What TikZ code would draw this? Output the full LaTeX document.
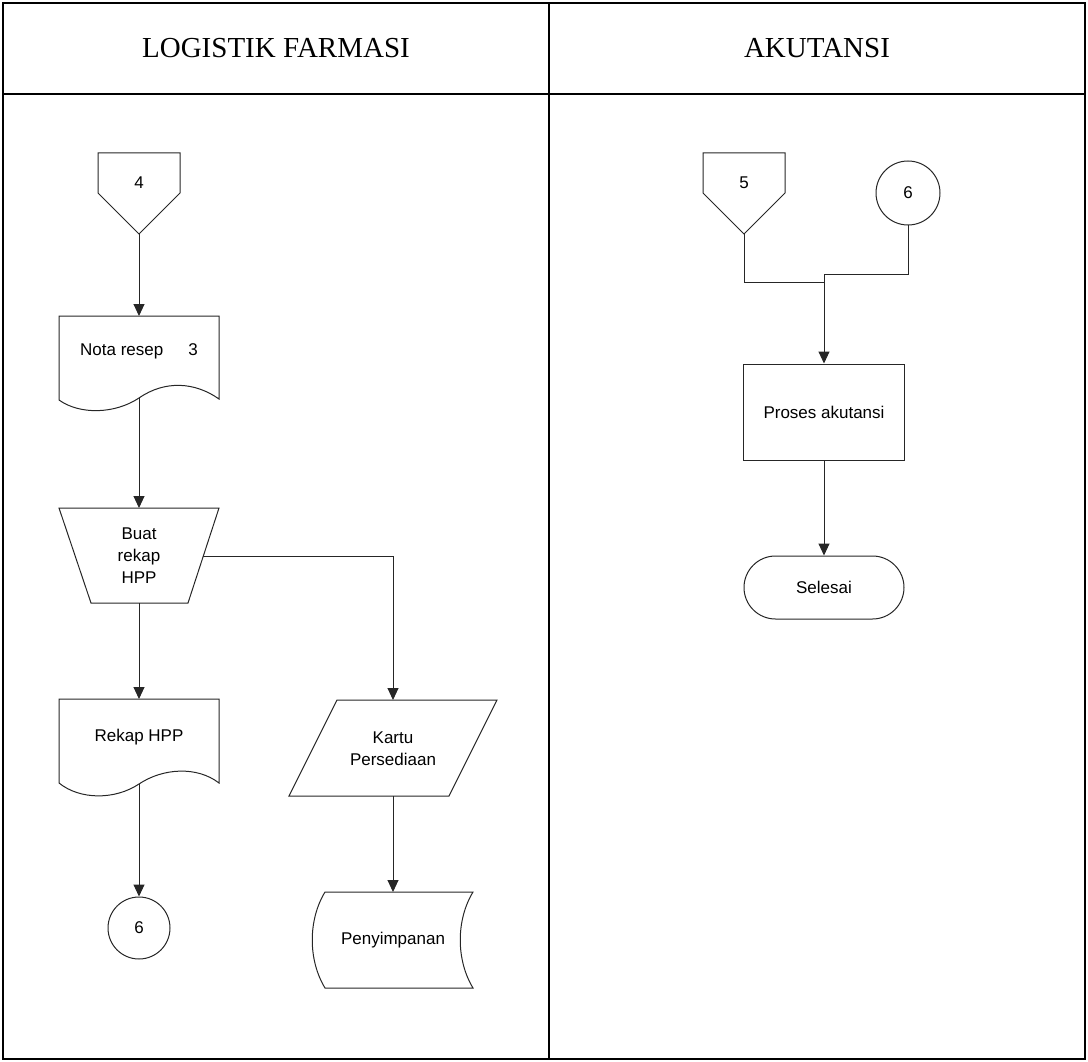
\documentclass[tikz,border=0pt]{standalone}
\usepackage{fontspec}
\setmainfont{Liberation Serif}
\setsansfont{Liberation Sans}
\usetikzlibrary{arrows.meta}

\begin{document}
\begin{tikzpicture}[x=1pt,y=-1pt,
  lanes/.style={line width=2.2pt, draw=black},
  head/.style={font=\rmfamily\fontsize{29}{32}\selectfont, inner sep=0},
  shp/.style={draw=black!85, line width=1pt},
  lbl/.style={font=\sffamily\fontsize{17}{22}\selectfont, align=center, inner sep=0},
  ln/.style={draw=black!85, line width=1pt},
  arr/.style={ln, -{Triangle[length=12pt,width=11pt]}}]

\useasboundingbox (0,0) rectangle (1088,1062);

% swimlane frame
\draw[lanes] (3,3) rectangle (1085,1059);
\draw[lanes] (3,94) -- (1085,94);
\draw[lanes] (549,3) -- (549,1059);
\node[head] (hlog) at (276,48) {LOGISTIK FARMASI};
\node[head] (hakt) at (817,48) {AKUTANSI};

% ---------- LOGISTIK FARMASI ----------
% off-page connector 4
\draw[shp] (98,153) -- (180,153) -- (180,193) -- (139,234) -- (98,193) -- cycle;
\node[lbl] (t4) at (139,183) {4};
\coordinate (o4) at (139,234);

% document: Nota resep
\draw[shp] (59,316) -- (219,316) -- (219,399)
  .. controls (195,382) and (165,380) .. (139,398)
  .. controls (115,414) and (80,415) .. (59,400) -- cycle;
\node[lbl] (nota) at (139,351) {Nota resep\hspace{25pt}3};
\coordinate (notaT) at (139,316);
\coordinate (notaB) at (139,398);

% manual operation: Buat rekap HPP
\draw[shp] (59,508) -- (219,508) -- (188,603) -- (91,603) -- cycle;
\node[lbl] (buat) at (139,556) {Buat\\rekap\\HPP};
\coordinate (buatT) at (139,508);
\coordinate (buatB) at (139,603);
\coordinate (buatR) at (203.3,556);

% document: Rekap HPP
\draw[shp] (59,699) -- (219,699) -- (219,783)
  .. controls (197,766) and (163,768) .. (139,784)
  .. controls (115,800) and (80,800) .. (59,783) -- cycle;
\node[lbl] (rekap) at (139,737) {Rekap HPP};
\coordinate (rekapT) at (139,699);
\coordinate (rekapB) at (139,784);

% on-page connector 6
\node[shp, circle, minimum size=62pt, inner sep=0, font=\sffamily\fontsize{17}{22}\selectfont] (c6l) at (139,928) {6};

% data: Kartu Persediaan
\draw[shp] (337,700) -- (497,700) -- (449,796) -- (289,796) -- cycle;
\node[lbl] (kartu) at (393,749) {Kartu\\Persediaan};
\coordinate (kartuT) at (393,700);
\coordinate (kartuB) at (393,796);

% stored data: Penyimpanan
\draw[shp] (325,892) -- (473,892)
  .. controls (456,920) and (456,960) .. (473,988)
  -- (325,988)
  .. controls (308,960) and (308,920) .. (325,892) -- cycle;
\node[lbl] (simpan) at (393,940) {Penyimpanan};
\coordinate (simpanT) at (393,892);

% flow, left lane
\draw[arr] (o4) -- (notaT);
\draw[arr] (notaB) -- (buatT);
\draw[arr] (buatB) -- (rekapT);
\draw[arr] (buatR) -| (kartuT);
\draw[arr] (rekapB) -- (c6l.north);
\draw[arr] (kartuB) -- (simpanT);

% ---------- AKUTANSI ----------
% off-page connector 5
\draw[shp] (703,153) -- (785,153) -- (785,193) -- (744,234) -- (703,193) -- cycle;
\node[lbl] (t5) at (744,183) {5};
\coordinate (o5) at (744,234);

% on-page connector 6
\node[shp, circle, minimum size=64pt, inner sep=0, font=\sffamily\fontsize{17}{22}\selectfont] (c6r) at (908,193) {6};

% process and terminator
\node[shp, lbl, minimum width=161pt, minimum height=96pt] (proses) at (824,412) {Proses akutansi};
\node[shp, lbl, rounded corners=31.5pt, minimum width=160pt, minimum height=63pt] (selesai) at (824,587.5) {Selesai};

% junctions of the two incoming lines
\coordinate (j5) at (824,282);
\coordinate (j6) at (824,274);

\draw[ln] (o5) |- (j5);
\draw[arr] (c6r.south) |- (j6) -- (proses.north);
\draw[arr] (proses.south) -- (selesai.north);

\end{tikzpicture}
\end{document}
